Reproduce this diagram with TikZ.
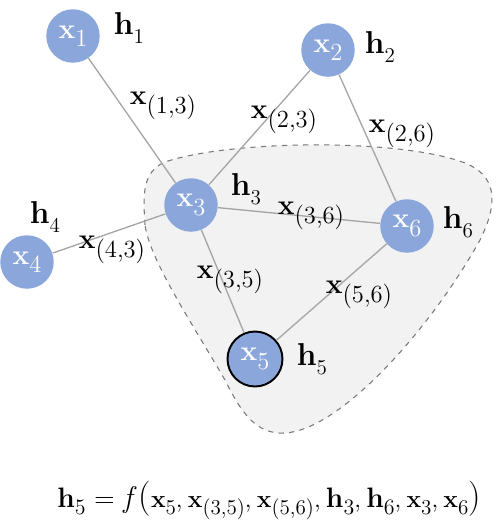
\documentclass[tikz,border=0pt]{standalone}
\definecolor{nodeblue}{RGB}{139,166,218}
\definecolor{edgegray}{RGB}{165,165,165}
\definecolor{blobfill}{RGB}{242,242,242}
\definecolor{blobline}{RGB}{120,120,120}
\newcommand{\subtxt}[2]{\raisebox{-0.3em}{\fontsize{#1}{#1}\selectfont #2}}
\newcommand{\xlab}[1]{{\fontsize{16}{16}\selectfont\textbf{x}\subtxt{14}{(#1)}}}
\newcommand{\hlab}[1]{{\fontsize{18}{18}\selectfont\textbf{h}\subtxt{12}{#1}}}
\newcommand{\nlab}[1]{{\fontsize{16}{16}\selectfont\textbf{x}\subtxt{14}{#1}}}
\newcommand{\fx}[1]{\textbf{x}\subtxt{12}{#1}}
\newcommand{\fh}[1]{{\fontsize{16}{16}\selectfont\textbf{h}}\subtxt{12.5}{#1}}
\newcommand{\fsep}{,\hspace{3pt}}
\tikzset{
  vtx/.style={circle, fill=nodeblue, minimum size=1.07cm, inner sep=0pt, text=white},
  edgeline/.style={draw=edgegray, line width=0.75pt},
  lbl/.style={inner sep=0pt},
  blob/.style={fill=blobfill, draw=blobline, dashed, line width=0.6pt}
}
\begin{document}
\begin{tikzpicture}[x=0.02cm, y=-0.02cm]
\useasboundingbox (0,0) rectangle (500,525);
% blob
\path[blob] (145,225) .. controls (143,195) and (142,172) .. (165,162)
  .. controls (230,140) and (400,138) .. (465,163)
  .. controls (495,175) and (500,200) .. (480,240)
  .. controls (430,330) and (340,430) .. (285,433)
  .. controls (255,435) and (240,410) .. (225,380)
  .. controls (190,320) and (150,260) .. (145,225) -- cycle;
% nodes
\node[vtx] (x1) at (73,36) {\nlab{1}};
\node[vtx] (x2) at (328,50) {\nlab{2}};
\node[vtx] (x3) at (191,205) {\nlab{3}};
\node[vtx] (x4) at (27,262) {\nlab{4}};
\node[vtx] (x6) at (407,226) {\nlab{6}};
\node[vtx, draw=black, line width=1.1pt, minimum size=1.1cm] (x5) at (255,359) {\nlab{5}};
% edges
\draw[edgeline] (x1) -- (x3);
\draw[edgeline] (x2) -- (x3);
\draw[edgeline] (x2) -- (x6);
\draw[edgeline] (x4) -- (x3);
\draw[edgeline] (x3) -- (x6);
\draw[edgeline] (x3) -- (x5);
\draw[edgeline] (x5) -- (x6);
% h labels
\node[lbl] (h1) at (129,28) {\hlab{1}};
\node[lbl] (h2) at (380,47) {\hlab{2}};
\node[lbl] (h3) at (246,189) {\hlab{3}};
\node[lbl] (h4) at (45,217) {\hlab{4}};
\node[lbl] (h5) at (312,359) {\hlab{5}};
\node[lbl] (h6) at (458,222) {\hlab{6}};
% edge labels
\node[lbl] (e13) at (163,106) {\xlab{1,3}};
\node[lbl] (e23) at (284,120) {\xlab{2,3}};
\node[lbl] (e26) at (402,134) {\xlab{2,6}};
\node[lbl] (e36) at (311,216) {\xlab{3,6}};
\node[lbl] (e43) at (112,250) {\xlab{4,3}};
\node[lbl] (e35) at (230,280) {\xlab{3,5}};
\node[lbl] (e56) at (359,295) {\xlab{5,6}};
% formula
\node[lbl, anchor=base west] (formula) at (57,507) {\fontsize{14}{14}\selectfont
  \fh{5}\hspace{5pt}{\fontsize{16}{16}\selectfont=}\hspace{5pt}{\fontsize{17}{17}\selectfont\textit{f}}\hspace{1pt}{\fontsize{20}{20}\selectfont(}\fx{5}\fsep\fx{(3,5)}\fsep\fx{(5,6)}\fsep\fh{3}\fsep\fh{6}\fsep\fx{3}\fsep\fx{6}{\fontsize{20}{20}\selectfont)}};
\end{tikzpicture}
\end{document}
